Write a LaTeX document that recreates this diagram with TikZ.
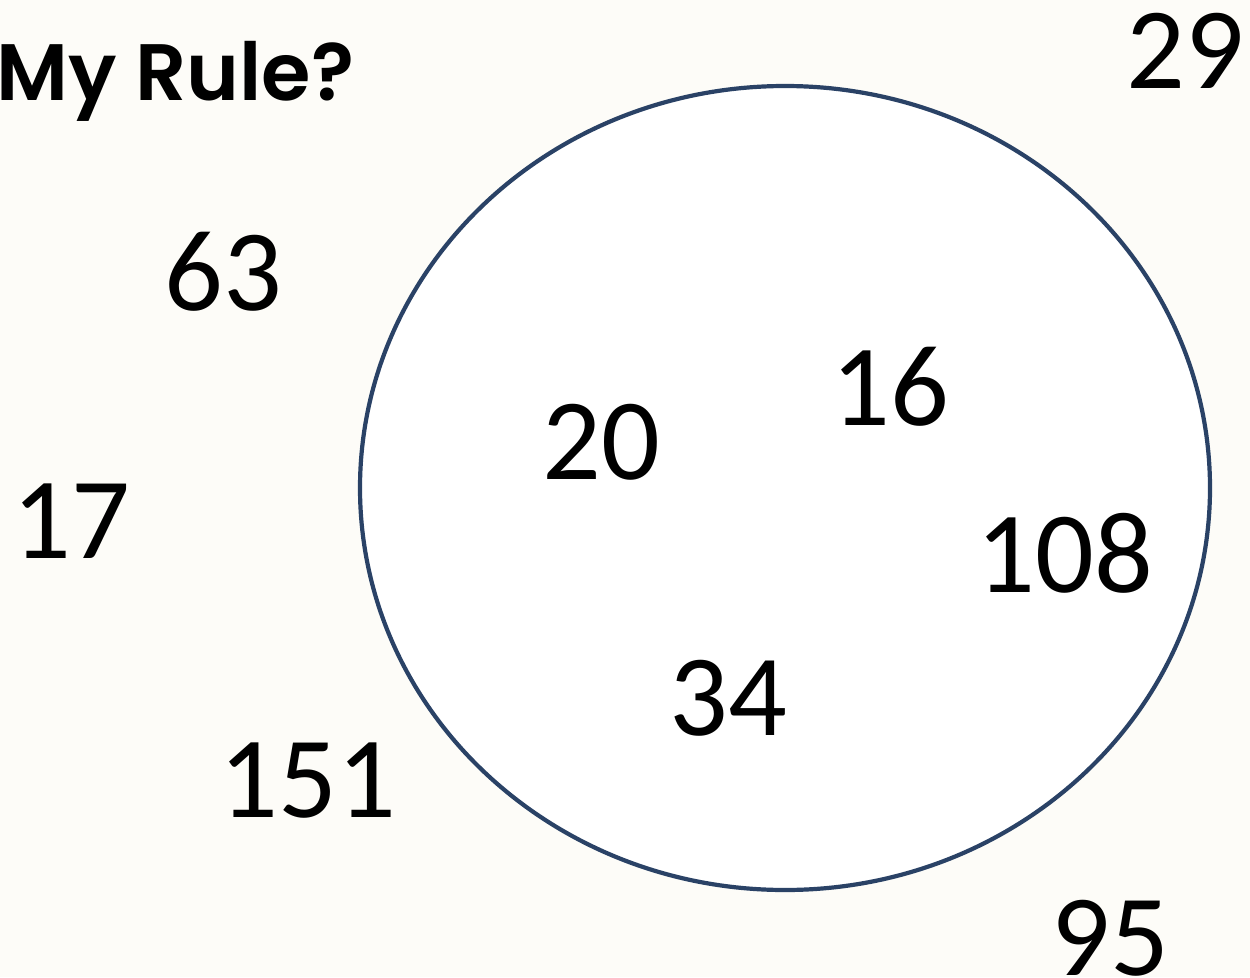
\documentclass[tikz,border=0pt]{standalone}
\usepackage{fontspec}
\setmainfont{Carlito}
\newfontfamily\titlefont{Poppins}[UprightFont={* SemiBold}]
\definecolor{bgcol}{HTML}{FDFCF8}
\definecolor{ringcol}{HTML}{2A4266}
\begin{document}
\begin{tikzpicture}[x=1pt,y=-1pt,
  num/.style={anchor=base,inner sep=0pt,font=\fontsize{116}{136}\selectfont},
  title/.style={anchor=base west,inner sep=0pt,font=\titlefont\fontsize{80}{96}\selectfont}]
\fill[bgcol] (0,0) rectangle (1250,977);
\useasboundingbox (0,0) rectangle (1250,977);
\path[fill=white,draw=ringcol,line width=4.2pt] (785,488) ellipse [x radius=425, y radius=402];
\node[title] (t) at (-4,100) {My Rule?};
\node[num] (n29) at (1185,88) {29};
\node[num] (n63) at (223,310) {63};
\node[num] (n17) at (71,558) {17};
\node[num] (n20) at (601,479) {20};
\node[num] (n16) at (890,425) {16};
\node[num] (n108) at (1065,592) {108};
\node[num] (n34) at (728,735) {34};
\node[num] (n151) at (308,817) {151};
\node[num] (n95) at (1110,975) {95};
\end{tikzpicture}
\end{document}
